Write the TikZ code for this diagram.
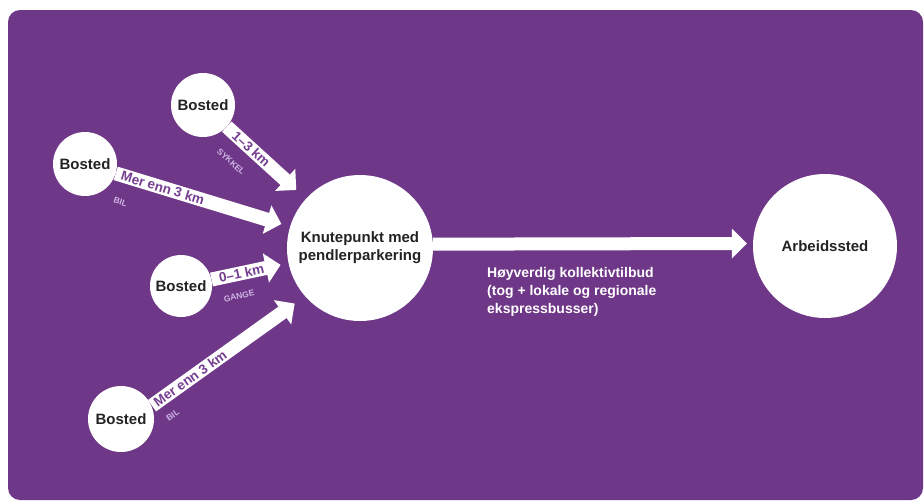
\documentclass[tikz,border=0pt]{standalone}
\usepackage{fontspec}
\setmainfont{Liberation Sans}
\usetikzlibrary{arrows.meta}
\definecolor{bgpurple}{RGB}{111,55,135}
\definecolor{txtpurple}{RGB}{118,62,145}
\definecolor{lav}{RGB}{205,180,228}
\definecolor{darktext}{RGB}{35,35,35}
\begin{document}
\begin{tikzpicture}[x=1pt,y=-1pt,
  place/.style={circle, fill=white, draw=none, inner sep=0pt, minimum size=#1,
    font=\bfseries\fontsize{15}{18}\selectfont, text=darktext, align=center},
  flow/.style={white, line width=14pt, -{Triangle[width=29pt,length=15pt]}, shorten >=#1},
  flowtext/.style={sloped, text=txtpurple, font=\bfseries\fontsize{13.5}{13.5}\selectfont, inner sep=0pt},
  modetext/.style={sloped, below=#1, text=lav, font=\bfseries\fontsize{8.5}{8.5}\selectfont, inner sep=0pt},
]
\useasboundingbox (0,0) rectangle (924,501);
\fill[bgpurple, rounded corners=12pt] (8,10) rectangle (923,500);

\node[place=64pt] (b1) at (203,105) {Bosted};
\node[place=64pt] (b2) at (85,164) {Bosted};
\node[place=62pt] (b3) at (181,286) {Bosted};
\node[place=66pt] (b4) at (121,419) {Bosted};
\node[place=146pt] (k) at (360,248) {Knutepunkt med\\pendlerparkering};
\node[place=144pt] (a) at (825,246) {Arbeidssted};

\draw[flow=13pt] (b1) -- (k)
  node[flowtext, pos=.31] (l1) {1–3 km}
  node[modetext=13pt, pos=.25] (m1) {SYKKEL};
\draw[flow=9pt] (b2) -- (k)
  node[flowtext, pos=.27] (l2) {Mer enn 3 km}
  node[modetext=16pt, pos=.07] (m2) {BIL};
\draw[flow=8pt] (b3) -- (k)
  node[flowtext, pos=.39] (l3) {0–1 km}
  node[modetext=12pt, pos=.30] (m3) {GANGE};
\begin{scope}[transform canvas={shift={(4,6)}}]
\draw[flow=12pt] (b4) -- (k)
  node[flowtext, pos=.25] (l4) {Mer enn 3 km}
  node[modetext=10pt, pos=.06] (m4) {BIL};
\end{scope}

\draw[flow=6pt, line width=13pt] (k.3) -- (a.178);

\node[anchor=north west, align=left, inner sep=0pt, text=white,
  font=\bfseries\fontsize{14}{18}\selectfont] (desc) at (487,267)
  {Høyverdig kollektivtilbud\\(tog + lokale og regionale\\ekspressbusser)};
\end{tikzpicture}
\end{document}
